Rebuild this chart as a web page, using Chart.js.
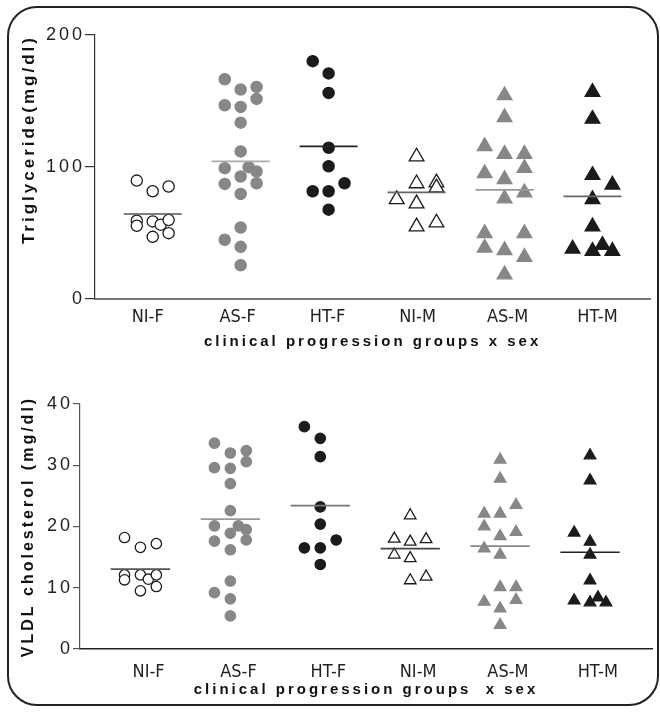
<!DOCTYPE html>
<html><head><meta charset="utf-8">
<script src="https://cdn.jsdelivr.net/npm/chart.js@4.4.1/dist/chart.umd.min.js"></script>
<style>
html,body{margin:0;padding:0;background:#fff;}
#wrap{position:relative;width:660px;height:712px;overflow:hidden;}
#frame{position:absolute;left:7px;top:6px;width:648px;height:696px;border:2px solid #222;border-radius:30px;}
.pane{position:absolute;left:0;width:660px;}
#p1{top:0;height:360px;}
#p2{top:345px;height:367px;}
</style></head><body>
<div id="wrap"><div id="frame"></div>
<div class="pane" id="p1"><canvas id="c1"></canvas></div>
<div class="pane" id="p2"><canvas id="c2"></canvas></div>
</div>
<script>
// ---------- data ----------
const categories = ['NI-F','AS-F','HT-F','NI-M','AS-M','HT-M'];

// Triglyceride (mg/dl) per group; lane = horizontal column of the dot within its group (-1 left, 0 centre, 1 right)
const tgNIF = [89.7,81.6,85.2,59.3,55.5,58.8,56.3,59.8,47.1,49.9];
const tgNIF_lane = [-1,0,1,-1,-1,0,0.5,1,0,1];
const tgASF = [166.5,158.7,160.7,151.6,146.8,145.5,133.6,111.8,99.1,99.9,96.6,92.8,87.2,87.7,79.6,54.2,44.9,39.5,25.6];
const tgASF_lane = [-1,0,1,1,-1,0,0,0,-1,0.5,1,0,-1,1,0,0,-1,0,0];
const tgHTF = [180.2,170.9,156.1,114.6,100.6,87.7,81.6,81.6,67.7];
const tgHTF_lane = [-1,0,0,0,0,1,-1,0,0];
const tgNIM = [107.8,87.5,88.2,84.4,75.5,72.3,54.8,57.8];
const tgNIM_lane = [0,0,1,1,-1,0,0,1];
const tgASM = [154.2,137.7,115.6,109.8,109.8,99.1,95.1,90.7,80.6,76.1,49.7,49.7,38.8,36.8,31.7,18.5];
const tgASM_lane = [0,0,-1,0,1,1,-1,0,1,0,-1,1,-1,0,1,0];
const tgHTM = [156.7,136.4,93.8,86.5,75.5,54.8,38.0,36.3,40.9,36.3];
const tgHTM_lane = [0,0,0,1,0,0,-1,0,0.5,1];
const tgMeans = [64.4,104.2,115.6,80.8,82.6,77.8];
const tgTicks = [0,100,200];

// VLDL cholesterol (mg/dl) per group
const vlNIF = [18.2,16.6,17.2,12.1,11.3,12.1,11.4,12.1,9.5,10.2];
const vlNIF_lane = [-1,0,1,-1,-1,0,0.5,1,0,1];
const vlASF = [33.6,32.0,32.4,30.6,29.6,29.5,27.0,22.6,20.1,20.1,19.5,18.9,17.6,17.8,16.2,11.1,9.2,8.2,5.4];
const vlASF_lane = [-1,0,1,1,-1,0,0,0,-1,0.5,1,0,-1,1,0,0,-1,0,0];
const vlHTF = [36.3,34.4,31.4,23.2,20.4,17.8,16.5,16.5,13.8];
const vlHTF_lane = [-1,0,0,0,0,1,-1,0,0];
const vlNIM = [21.8,18.0,17.5,17.9,15.4,14.8,11.2,11.8];
const vlNIM_lane = [0,-1,0,1,-1,0,0,1];
const vlASM = [30.9,27.8,23.5,22.1,22.1,20.0,19.1,18.4,16.4,15.4,10.1,10.1,7.7,8.0,6.6,3.9];
const vlASM_lane = [0,0,1,-1,0,-1,1,0,-1,0,0,1,-1,1,0,0];
const vlHTM = [31.6,27.5,19.0,17.5,15.4,11.2,7.9,7.6,8.4,7.6];
const vlHTM_lane = [0,0,-1,0,0,0,-1,0,0.5,1];
const vlMeans = [13.05,21.2,23.4,16.4,16.8,15.8];
const vlTicks = [0,10,20,30,40];

// ---------- styles ----------
const GRAY = '#878787', BLACK = '#1b1b1b';
const markerStyles = [
  {shape:'circle',   fill:'#ffffff', stroke:BLACK},
  {shape:'circle',   fill:GRAY,      stroke:GRAY},
  {shape:'circle',   fill:BLACK,     stroke:BLACK},
  {shape:'triangle', fill:'#ffffff', stroke:BLACK},
  {shape:'triangle', fill:GRAY,      stroke:GRAY},
  {shape:'triangle', fill:BLACK,     stroke:BLACK},
];

const spacingPlugin = {
  id:'spacing',
  beforeDraw(chart){ chart.ctx.letterSpacing = '3px'; },
  beforeDatasetsDraw(chart){ chart.ctx.letterSpacing = '0px'; }
};

function makeChart(id, o){
  const datasets = [];
  o.values.forEach((vals, g) => {
    const st = markerStyles[g];
    const tri = st.shape === 'triangle';
    datasets.push({
      type:'scatter', xAxisID:'xd', yAxisID:'y', order:1, clip:false,
      data: vals.map((v,k) => ({x: g + o.lanes[g][k]*(tri ? o.triLane : o.circLane), y: v})),
      pointStyle: st.shape,
      pointRadius: tri ? o.triR : o.circR,
      pointBackgroundColor: st.fill,
      pointBorderColor: st.stroke,
      pointBorderWidth: 1.3,
      showLine:false
    });
  });
  o.means.forEach((m, g) => {
    datasets.push({
      type:'line', xAxisID:'xd', yAxisID:'y', order:0, clip:false,
      data:[{x:g-0.33,y:m},{x:g+0.33,y:m}],
      borderColor:o.meanColors[g], borderWidth:1.7, pointRadius:0, fill:false
    });
  });
  return new Chart(document.getElementById(id), {
    data:{datasets},
    plugins:[spacingPlugin],
    options:{
      responsive:true, maintainAspectRatio:false, animation:false,
      layout:{padding:{left:10,right:o.padRight,top:o.padTop,bottom:0}},
      plugins:{legend:{display:false}, tooltip:{enabled:false}},
      scales:{
        xd:{type:'linear', position:'bottom', display:false, min:o.dataMin, max:o.dataMax},
        x:{type:'linear', position:'bottom', min:o.labMin, max:o.labMax,
          afterBuildTicks:s => { s.ticks = categories.map((c,i)=>({value:i})); },
          afterFit:s => { s.height = o.xHeight; },
          grid:{display:false, drawTicks:false},
          border:{display:true, color:o.xAxisColor, width:o.xAxisWidth},
          ticks:{z:1, autoSkip:false, maxRotation:0, padding:o.xTickPad, color:'#222',
            font:{family:'"Liberation Sans Narrow","DejaVu Sans Condensed","Liberation Sans",sans-serif', size:18},
            callback:v => categories[v]},
          title:{display:true, text:o.xTitle, color:'#111',
            font:{family:'"Liberation Sans",Arial,sans-serif', size:15, weight:'bold'},
            padding:{top:0,bottom:o.xTitlePad}}
        },
        y:{type:'linear', position:'left', min:o.yTicks[0], max:o.yTicks[o.yTicks.length-1],
          afterBuildTicks:s => { s.ticks = o.yTicks.map(v=>({value:v})); },
          afterFit:s => { s.width = o.yWidth; },
          grid:{display:true, drawOnChartArea:false, drawTicks:true, tickLength:o.tickLen, color:o.yAxisColor, lineWidth:1.2},
          border:{display:true, color:o.yAxisColor, width:1.2},
          ticks:{padding:0, color:'#222', font:{family:'"Liberation Sans",Arial,sans-serif', size:18}},
          title:{display:true, text:o.yTitle, align:o.yTitleAlign, color:'#111',
            font:{family:'"Liberation Sans",Arial,sans-serif', size:o.yTitleSize, weight:'bold'},
            padding:{top:9,bottom:0}}
        }
      }
    }
  });
}

makeChart('c1', {
  values:[tgNIF,tgASF,tgHTF,tgNIM,tgASM,tgHTM],
  lanes:[tgNIF_lane,tgASF_lane,tgHTF_lane,tgNIM_lane,tgASM_lane,tgHTM_lane],
  means:tgMeans, yTicks:tgTicks,
  meanColors:['#555','#aaa','#222','#666','#999','#666'],
  circLane:0.181, triLane:0.226, circR:5.6, triR:8.5,
  padTop:35, padRight:7, yWidth:85, xHeight:61, tickLen:10,
  dataMin:-0.656, dataMax:5.656, labMin:-0.586, labMax:5.586,
  xAxisColor:'#777', xAxisWidth:2, yAxisColor:'#333', xTickPad:8, xTitlePad:9,
  xTitle:'clinical progression groups x sex',
  yTitle:'Triglyceride(mg/dl)', yTitleAlign:'end', yTitleSize:17
});

makeChart('c2', {
  values:[vlNIF,vlASF,vlHTF,vlNIM,vlASM,vlHTM],
  lanes:[vlNIF_lane,vlASF_lane,vlHTF_lane,vlNIM_lane,vlASM_lane,vlHTM_lane],
  means:vlMeans, yTicks:vlTicks,
  meanColors:['#555','#999','#777','#444','#888','#222'],
  circLane:0.177, triLane:0.177, circR:5.2, triR:6.7,
  padTop:59, padRight:5, yWidth:70, xHeight:63, tickLen:7,
  dataMin:-0.672, dataMax:5.689, labMin:-0.764, labMax:5.604,
  xAxisColor:'#222', xAxisWidth:1.5, yAxisColor:'#555', xTickPad:13, xTitlePad:13,
  xTitle:'clinical progression groups  x sex',
  yTitle:'VLDL cholesterol (mg/dl)', yTitleAlign:'center', yTitleSize:16
});
</script>
</body></html>
